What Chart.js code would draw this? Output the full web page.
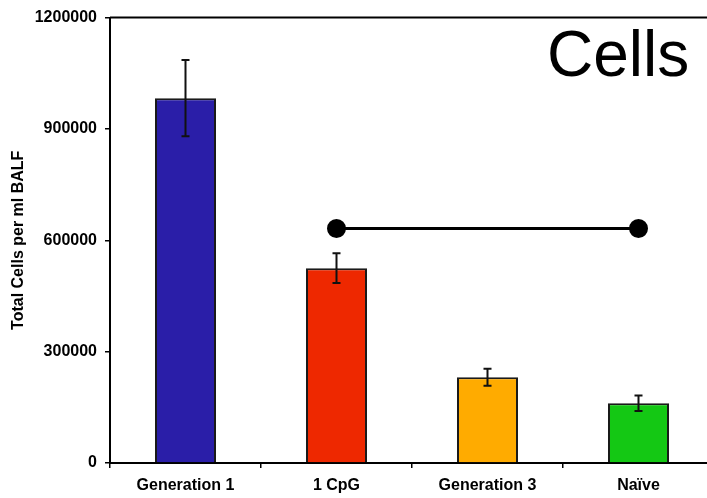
<!DOCTYPE html>
<html>
<head>
<meta charset="utf-8">
<script src="https://cdn.jsdelivr.net/npm/chart.js@4"></script>
<style>
  html, body { margin: 0; padding: 0; background: #fff; overflow: hidden; }
  #cellsChart { display: block; }
</style>
</head>
<body>
<canvas id="cellsChart" width="707" height="498"></canvas>
<script>
const categories = ["Generation 1", "1 CpG", "Generation 3", "Naïve"];
const cellCounts = [983000, 525000, 231000, 161000];
const cellErrors = [103000, 40000, 23000, 21000];
const barColors = ["#2a1ea8", "#ee2800", "#ffab00", "#14c814"];
const sigLine = [null, 632000, null, 632000];
const yTicks = [0, 300000, 600000, 900000, 1200000];

const FONT = "'Liberation Sans', Arial, sans-serif";

// the original plot runs a little past the right edge of the picture
const widenPlot = {
  id: "widenPlot",
  afterLayout(chart) {
    const x = chart.scales.x;
    x.right = x.left + 604;
    x.width = 604;
    chart.chartArea.right = x.right;
    chart.chartArea.width = x.right - chart.chartArea.left;
    x.configure();
  }
};

// error bars on top of the bars, plus frame line and panel label
const errorBars = {
  id: "errorBars",
  afterDatasetsDraw(chart) {
    const meta = chart.getDatasetMeta(0);
    const y = chart.scales.y;
    const ctx = chart.ctx;
    ctx.save();
    ctx.strokeStyle = "#111";
    ctx.lineWidth = 2;
    meta.data.forEach((bar, i) => {
      const top = y.getPixelForValue(cellCounts[i] + cellErrors[i]);
      const bot = y.getPixelForValue(cellCounts[i] - cellErrors[i]);
      ctx.beginPath();
      ctx.moveTo(bar.x, top); ctx.lineTo(bar.x, bot);
      ctx.moveTo(bar.x - 4, top); ctx.lineTo(bar.x + 4, top);
      ctx.moveTo(bar.x - 4, bot); ctx.lineTo(bar.x + 4, bot);
      ctx.stroke();
    });
    ctx.restore();
  },
  afterDraw(chart) {
    const { ctx, chartArea } = chart;
    ctx.save();
    ctx.strokeStyle = "#000";
    ctx.lineWidth = 2;
    ctx.beginPath();
    ctx.moveTo(chartArea.left, chartArea.top);
    ctx.lineTo(chartArea.right, chartArea.top);
    ctx.stroke();
    ctx.fillStyle = "#000";
    ctx.font = "64px " + FONT;
    ctx.textAlign = "left";
    ctx.textBaseline = "alphabetic";
    ctx.fillText("Cells", 547, 76);
    ctx.restore();
  }
};

new Chart(document.getElementById("cellsChart"), {
  data: {
    labels: categories,
    datasets: [
      {
        type: "bar",
        data: cellCounts,
        backgroundColor: barColors,
        borderColor: "#1a1a1a",
        borderWidth: 2,
        barPercentage: 0.404,
        categoryPercentage: 1,
        order: 2
      },
      {
        type: "line",
        data: sigLine,
        spanGaps: true,
        borderColor: "#000",
        borderWidth: 3,
        pointRadius: 8,
        pointBackgroundColor: "#000",
        pointBorderColor: "#000",
        clip: false,
        order: 1
      }
    ]
  },
  options: {
    responsive: false,
    animation: false,
    layout: { padding: { top: 15, right: 0, left: 0, bottom: 0 } },
    plugins: { legend: { display: false }, tooltip: { enabled: false } },
    scales: {
      x: {
        grid: { offset: true, drawOnChartArea: false, drawTicks: true, tickLength: 5, color: "#000", lineWidth: 1.5 },
        border: { display: true, color: "#000", width: 2 },
        ticks: { color: "#000", padding: 8, maxRotation: 0, font: { family: FONT, size: 16, weight: "bold" } },
        afterFit(scale) { scale.height = 35; }
      },
      y: {
        min: 0,
        max: 1200000,
        afterBuildTicks(scale) { scale.ticks = yTicks.map((v) => ({ value: v })); },
        grid: { drawOnChartArea: false, drawTicks: true, tickLength: 5, color: "#000", lineWidth: 1.5 },
        border: { display: true, color: "#000", width: 2 },
        ticks: {
          color: "#000",
          padding: 8,
          font: { family: FONT, size: 16, weight: "bold" },
          callback: (v) => String(v)
        },
        title: {
          display: true,
          text: "Total Cells per ml BALF",
          color: "#000",
          padding: { top: 9, bottom: 0 },
          font: { family: FONT, size: 16, weight: "bold" }
        },
        afterFit(scale) { scale.width = 110; }
      }
    }
  },
  plugins: [widenPlot, errorBars]
});
</script>
</body>
</html>
